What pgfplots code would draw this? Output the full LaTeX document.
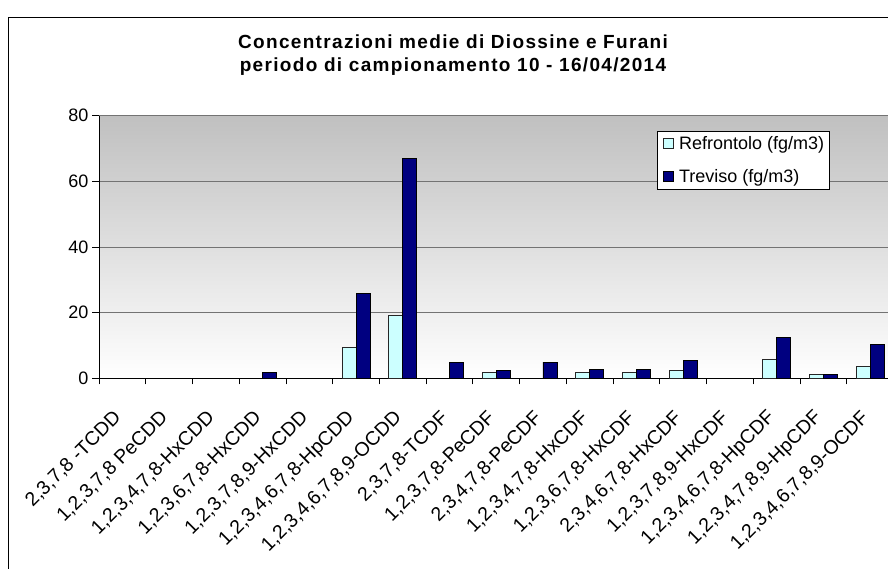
\documentclass[border=0pt]{standalone}
\usepackage{pgfplots}
\pgfplotsset{compat=1.18}
\usepackage{fontspec}
\setmainfont{Liberation Sans}
\newfontfamily\titlefont[LetterSpace=7]{Liberation Sans}
\definecolor{refr}{HTML}{CCFFFF}
\definecolor{trev}{HTML}{000080}
\definecolor{bgtop}{HTML}{C0C0C0}
\definecolor{bgmid}{HTML}{E2E2E2}
\begin{document}
\begin{tikzpicture}
\useasboundingbox (0pt,0pt) rectangle (888pt,569pt);
\clip (0pt,0pt) rectangle (888pt,569pt);
\draw[line width=1pt] (8.5pt,-20pt) rectangle (920pt,551.5pt);
\node[anchor=base, inner sep=0pt, font={\titlefont\bfseries\fontsize{19}{21}\selectfont}] at (453pt,520pt) {Concentrazioni medie di Diossine e Furani};
\node[anchor=base, inner sep=0pt, font={\titlefont\bfseries\fontsize{19}{21}\selectfont}] at (453pt,497pt) {periodo di campionamento 10 - 16/04/2014};
\begin{axis}[
  at={(99pt,190.7pt)}, anchor=south west,
  scale only axis, width=794.5pt, height=262.6pt,
  xmin=-0.5, xmax=16.5, ymin=0, ymax=80,
  ytick={0,20,...,80},
  xtick={0,...,16},
  xticklabels={{2,3,7,8 -TCDD},{1,2,3,7,8 PeCDD},{1,2,3,4,7,8-HxCDD},{1,2,3,6,7,8-HxCDD},{1,2,3,7,8,9-HxCDD},{1,2,3,4,6,7,8-HpCDD},{1,2,3,4,6,7,8,9-OCDD},{2,3,7,8-TCDF},{1,2,3,7,8-PeCDF},{2,3,4,7,8-PeCDF},{1,2,3,4,7,8-HxCDF},{1,2,3,6,7,8-HxCDF},{2,3,4,6,7,8-HxCDF},{1,2,3,7,8,9-HxCDF},{1,2,3,4,6,7,8-HpCDF},{1,2,3,4,7,8,9-HpCDF},{1,2,3,4,6,7,8,9-OCDF}},
  minor xtick={-0.5,0.5,...,16.5},
  major x tick style={draw=none},
  minor tick length=6pt, major tick length=7pt,
  tick align=outside,
  tick style={black, line width=0.8pt},
  axis x line*=bottom, axis y line*=left,
  axis line style={line width=1pt, black, -},
  ymajorgrids, grid style={draw=black!55, line width=0.8pt},
  x tick label style={rotate=45, anchor=east, xshift=-20.5pt, yshift=-17.7pt, font=\fontsize{19.5}{21}\selectfont},
  y tick label style={font=\fontsize{18}{20}\selectfont},
  /pgf/number format/assume math mode=true,
  axis background/.style={top color=bgtop, middle color=bgmid, bottom color=white},
  ybar=0pt, bar width=14pt,
  legend style={at={(0.702,0.943)}, anchor=north west, draw=black, line width=0.8pt, fill=white,
    font=\fontsize{18}{20}\selectfont, row sep=15pt, inner sep=3pt, cells={anchor=west}},
]
\addplot[fill=refr, draw=black!85, line width=0.9pt,
  legend image code/.code={\path[draw=none,fill=none] (0pt,0pt) rectangle (17pt,1pt);\draw[fill=refr, draw=black!85, line width=0.8pt] (3pt,-5pt) rectangle (13pt,5pt);}]
  coordinates {(5,9.3) (6,19.2) (8,1.7) (10,1.7) (11,1.7) (12,2.3) (14,5.8) (15,1.2) (16,3.5)};
\addlegendentry{Refrontolo (fg/m3)}
\addplot[fill=trev, draw=black, line width=0.9pt,
  legend image code/.code={\path[draw=none,fill=none] (0pt,0pt) rectangle (17pt,1pt);\draw[fill=trev, draw=black, line width=0.8pt] (3pt,-5pt) rectangle (13pt,5pt);}]
  coordinates {(3,1.8) (5,25.9) (6,66.9) (7,4.9) (8,2.3) (9,4.9) (10,2.6) (11,2.6) (12,5.4) (14,12.5) (15,1.1) (16,10.2)};
\addlegendentry{Treviso (fg/m3)}
\end{axis}
\end{tikzpicture}
\end{document}
